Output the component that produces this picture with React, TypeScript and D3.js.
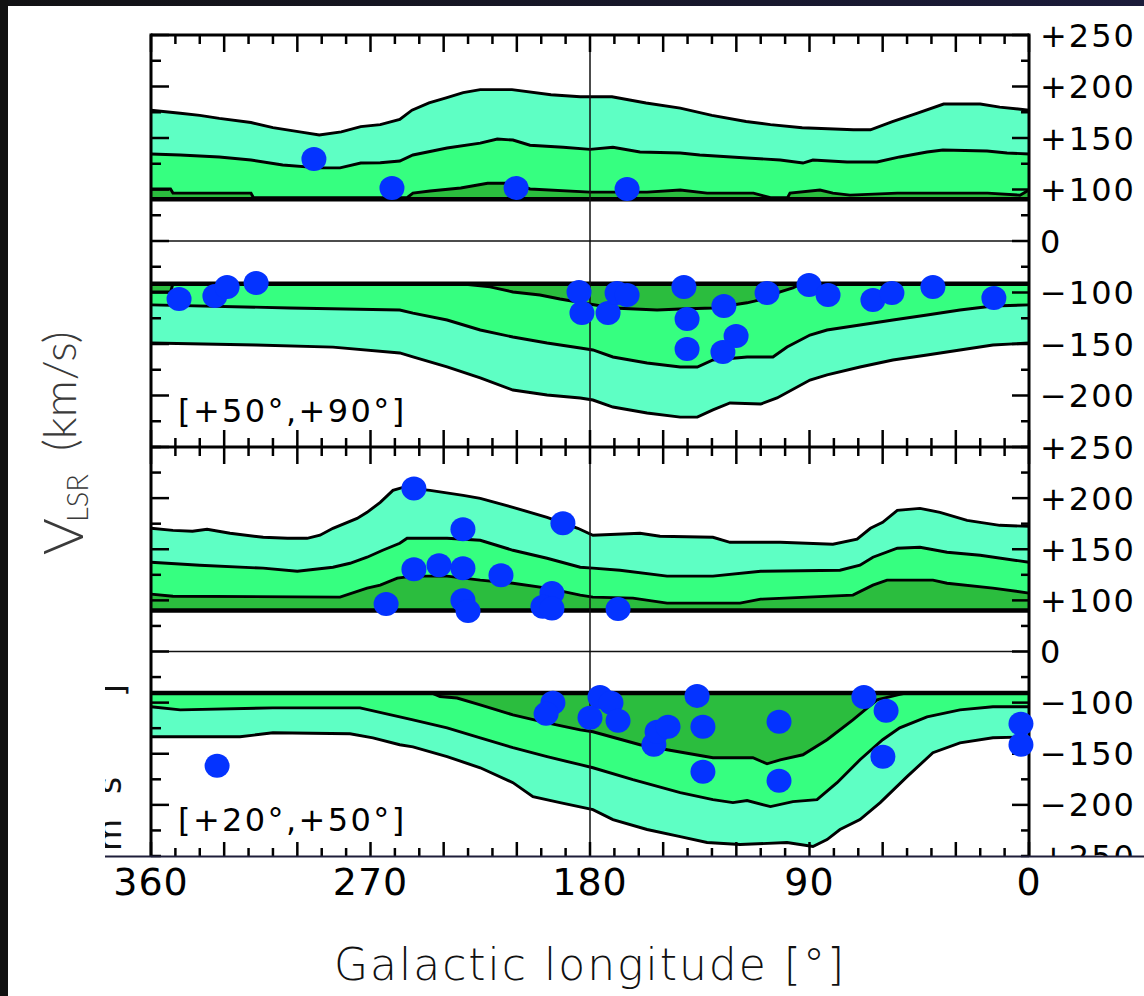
import React from 'react';
import * as d3 from 'd3';

type Pt = [number, number];

// ---------------- data (longitude [deg], V_LSR [km/s]) ----------------
// Panel 1: b in [+50°,+90°]
const p1PosDark: Pt[] = [[360,100.5],[352,100.5],[351,93],[319,93],[318,84],[255,84],[252.6,93],[245.6,97],[233,101.5],[222,106],[211.6,106],[204.6,100.5],[180,95],[156.6,95],[143,99],[132,93],[113,93],[106,84],[99,84],[98,93],[85.7,99],[80.4,93],[73.4,89],[54,93],[17,93],[3.7,89],[0,99]];
const p1PosMid: Pt[] = [[360,134.5],[348,133.5],[332,131.6],[319,128.6],[306,123.8],[291,121],[282.5,121],[274,125.7],[266,126],[258,127.7],[252.6,133.5],[238.6,140.3],[225,145],[218,149],[211.6,148],[204.6,143],[191,141],[180,139],[170.6,141],[159.5,136.4],[143,135.4],[135,133.5],[115.6,130.6],[102,128.6],[92.7,125.7],[88.6,128.6],[74.6,126.7],[62.3,126.7],[53,131.6],[41.8,136.4],[35.3,138.4],[17.2,137.4],[9,135.4],[0,134.5]];
const p1PosOuter: Pt[] = [[360,177],[348,174],[340,172],[332,169],[319,165],[310,160],[299,156],[291,153],[282,156],[274,161],[266,163],[258,168],[253,177],[246,184],[239,189],[232,194],[225,197],[212,197],[196,192],[184,190],[171,190],[157,184],[143,179],[130,172],[116,166],[106,163],[93,160],[72,158],[65,158],[56,166],[46,174],[35,183],[20,183],[12,180],[0,177]];
const p1NegDark: Pt[] = [[360,-99],[352,-99],[351,-83],[233,-83],[221,-89],[211.6,-99],[200.5,-102.4],[192.3,-106.3],[170.6,-115],[152.5,-117],[143,-116],[129.6,-115],[115.6,-110],[110,-107],[102,-99],[96.8,-91],[94,-85],[92,-83],[0,-83]];
const p1NegMid: Pt[] = [[360,-112],[303,-115],[258,-117],[252.6,-120],[238.6,-126.7],[225,-136.4],[211.6,-143.2],[197.6,-149],[184,-153.9],[178.8,-155.8],[170.6,-162.6],[156.6,-168.4],[143,-172.3],[136,-172.3],[129.6,-165.5],[115.6,-162.6],[105,-162.6],[99.2,-152.9],[89.8,-141.3],[82.8,-136.4],[69.3,-131.6],[55.8,-126.7],[41.8,-121.8],[28.3,-117],[14.8,-113.1],[0,-112]];
const p1NegOuter: Pt[] = [[360,-149],[317,-151],[285.4,-153],[258,-158.7],[252.6,-162.6],[238.6,-172.3],[225,-183],[211.6,-194.7],[197.6,-199.5],[184,-202.4],[178.8,-204.4],[170.6,-211.2],[156.6,-217],[143,-221],[136,-221],[129.6,-214],[122.6,-207.3],[110,-208.3],[103.3,-202.4],[89.8,-185],[82.8,-180],[69.3,-172.3],[55.8,-165.5],[41.8,-160.7],[28.3,-155.8],[14.8,-151],[0,-149]];
const p1Limits = [81, -83];
const p1Clouds: Pt[] = [[293.2,129.6],[261.2,101.5],[210.3,101.5],[164.8,100.5],[348.5,-106.3],[333.8,-103.4],[328.8,-89.3],[316.9,-81.6],[184.5,-99],[183.3,-119.9],[172.6,-119.9],[168.9,-100.5],[164.8,-102.4],[141.5,-89.3],[140.2,-125.7],[140.2,-154.9],[125.1,-113.1],[120.1,-142.2],[125.5,-157.8],[107.4,-100.5],[90.2,-85.4],[82.4,-102.4],[64,-107.3],[56.2,-100.5],[39.4,-89.3],[14.4,-105.3]];

// Panel 2: b in [+20°,+50°]
const p2PosDark: Pt[] = [[360,106.1],[351,104.1],[282.5,103.2],[271.4,112],[266,114.9],[259,121.7],[252.6,123.7],[238.6,123.7],[225,119.8],[211.6,116.8],[197.6,112],[184,105.1],[178.8,103.2],[162.4,102.2],[148.4,94.6],[118.5,94.6],[110,101.2],[72.2,105.1],[64,114.9],[58.2,119.8],[39.4,119.8],[33.6,116.8],[14.8,112],[0,107.1]];
const p2PosMid: Pt[] = [[360,137.3],[340,134.4],[314,131.5],[300,128.5],[285.4,132.4],[278.4,136.3],[271.4,142.2],[265,149],[258,155.9],[255,160.7],[238.6,160.7],[225,158.8],[211.6,149],[197.6,141.2],[184,132.4],[178.8,131.5],[167.7,129.5],[148.4,123.7],[129.6,123.7],[110,128.5],[77.5,129.5],[69.3,134.4],[64,142.2],[54,151],[44.7,152],[33.6,147.1],[20,144.1],[0,137.3]];
const p2PosOuter: Pt[] = [[360,170.5],[351,168.5],[343,167.6],[337,169.5],[327.6,165.6],[314,161.7],[304,160.7],[296,160.7],[290.7,163.7],[285.4,170.5],[275.5,180.2],[271.4,186.1],[266,195.9],[260.8,207.6],[256.7,210.5],[245.6,207.6],[232,202.7],[225,199.8],[211.6,191],[197.6,181.2],[185,170.5],[178.8,163.7],[159.5,165.6],[151.3,162.7],[129.6,161.7],[122.6,156.8],[102,156.8],[80.4,154.9],[70.5,159.8],[65,170.5],[60,176.3],[54,188],[44.7,190],[36.5,186.1],[25.4,178.3],[12,173.4],[0,172.4]];
const p2NegDark: Pt[] = [[360,-81],[245,-81],[241.5,-88],[234.5,-91],[225,-102.2],[211.6,-112],[197.6,-119.8],[184,-126.6],[178.8,-128.5],[159.5,-141.2],[148.4,-146.1],[129.6,-153.9],[113.2,-153.9],[107.4,-159.8],[102,-155.9],[92.7,-151],[82.8,-136.3],[72.2,-116.8],[62.3,-94.6],[53,-84],[50,-81],[0,-81]];
const p2NegMid: Pt[] = [[360,-104.1],[348,-107.1],[310,-105.1],[274.3,-105.1],[258,-113.9],[252.6,-116.8],[238.6,-124.6],[225,-134.4],[211.6,-144.1],[197.6,-152.9],[184,-160.7],[178.8,-163.7],[162.4,-175.4],[143,-188],[129.6,-194.9],[121.4,-197.8],[115.6,-195.8],[106,-201.7],[96.8,-196.8],[86.9,-194.9],[78.7,-178.3],[69.3,-155.9],[60,-136.3],[53,-124.6],[41.8,-113.9],[28.3,-107.1],[14.8,-104.1],[0,-104.1]];
const p2NegOuter: Pt[] = [[360,-133.4],[323.5,-133.4],[310,-129.5],[278.4,-130.5],[269,-134.4],[258,-141.2],[252.6,-143.2],[238.6,-152.9],[225,-163.7],[211.6,-178.3],[203.4,-192],[192.3,-197.8],[178.8,-204.6],[170.6,-214.4],[156.6,-224.1],[143,-231],[132,-236.8],[118.5,-238.8],[99.2,-236.8],[88.6,-240.7],[82.8,-233.9],[77.5,-224.1],[69.3,-214.4],[61,-197.8],[50,-172.4],[39.4,-149],[28.3,-139.3],[14.8,-134.4],[0,-133.4]];
const p2Limits = [80, -81];
const p2Clouds: Pt[] = [[252.2,209.5],[232.1,169.5],[191.1,175.4],[252.2,130.5],[241.9,134.4],[232.1,131.5],[216.5,124.6],[263.6,92.7],[232.1,100.2],[230,79],[195.6,107.1],[199.3,87.4],[195.6,84.3],[168.5,82.9],[332.9,-161.7],[195.2,-100.2],[198,-111],[175.9,-88.8],[171.4,-100.2],[180,-114.9],[168.5,-117.8],[153.8,-141.2],[152.5,-128.5],[148,-123.7],[136.1,-86.8],[133.7,-123.7],[133.7,-167.6],[102.5,-118.8],[102.5,-176.4],[67.7,-88.8],[58.6,-108],[59.9,-152.9],[3.3,-120.7],[3.3,-141.2]];

const velocityTicks = [250, 200, 150, 100, 0, -100, -150, -200];
const velocityTickLabels = ['+250', '+200', '+150', '+100', '0', '\u2212100', '\u2212150', '\u2212200'];
const velocityMinorTicks = [225, 175, 125, 50, -50, -125, -175, -225, -250];
const longitudeLabels = [360, 270, 180, 90, 0];
const panelLabels = ['[+50°,+90°]', '[+20°,+50°]'];

// ---------------- layout ----------------
const W = 1144, H = 996;
const XL = 151, XR = 1029;
const PANEL_BOUNDS = [[35, 447], [447, 856]];
const C_LIGHT = '#5effc4', C_MID = '#36ff80', C_DARK = '#2bbd3e', C_DOT = '#0433ff';
const TICK_FONT = "'DejaVu Sans', sans-serif";

const x = d3.scaleLinear().domain([360, 0]).range([XL, XR]);
// Compressed velocity axis: |v|<=100 occupies one unit, beyond that 50 km/s per unit
const compress = (v: number) => {
  const a = Math.abs(v);
  const c = a <= 100 ? a / 100 : 1 + (a - 100) / 50;
  return Math.sign(v) * c;
};

const panels = [
  { pos: [p1PosOuter, p1PosMid, p1PosDark], neg: [p1NegOuter, p1NegMid, p1NegDark], limits: p1Limits, clouds: p1Clouds, label: panelLabels[0] },
  { pos: [p2PosOuter, p2PosMid, p2PosDark], neg: [p2NegOuter, p2NegMid, p2NegDark], limits: p2Limits, clouds: p2Clouds, label: panelLabels[1] },
];

const lonTicks = d3.range(0, 361, 10);

function Panel({ idx }: { idx: number }) {
  const p = panels[idx];
  const [top, bottom] = PANEL_BOUNDS[idx];
  const ys = d3.scaleLinear().domain([-4, 4]).range([bottom, top]);
  const yv = (v: number) => ys(compress(v));
  const fills = [C_LIGHT, C_MID, C_DARK];
  const halves = [
    { curves: p.pos, lim: p.limits[0] },
    { curves: p.neg, lim: p.limits[1] },
  ];
  const line = d3.line<Pt>().x(d => x(d[0])).y(d => yv(d[1]));
  return (
    <g>
      {halves.map((h, hi) => {
        const area = d3.area<Pt>().x(d => x(d[0])).y0(yv(h.lim)).y1(d => yv(d[1]));
        return (
          <g key={hi}>
            {h.curves.map((c, ci) => (
              <path key={ci} d={area(c) || ''} fill={fills[ci]} stroke="none" />
            ))}
          </g>
        );
      })}
      <line x1={XL} x2={XR} y1={yv(0)} y2={yv(0)} stroke="#111" strokeWidth={1.5} />
      {halves.map((h, hi) => (
        <g key={'l' + hi}>
          {h.curves.map((c, ci) => (
            <path key={ci} d={line(c) || ''} fill="none" stroke="#000" strokeWidth={2.9} strokeLinejoin="miter" />
          ))}
          <line x1={XL} x2={XR} y1={yv(h.lim)} y2={yv(h.lim)} stroke="#000" strokeWidth={4.5} />
        </g>
      ))}
      {velocityTicks.map(v => (
        <g key={'t' + v}>
          <line x1={XL} x2={XL + 18} y1={yv(v)} y2={yv(v)} stroke="#000" strokeWidth={2.5} />
          <line x1={XR} x2={XR - 17} y1={yv(v)} y2={yv(v)} stroke="#000" strokeWidth={2.5} />
        </g>
      ))}
      {velocityMinorTicks.map(v => (
        <g key={'m' + v}>
          <line x1={XL} x2={XL + 10} y1={yv(v)} y2={yv(v)} stroke="#000" strokeWidth={2.5} />
          <line x1={XR} x2={XR - 8} y1={yv(v)} y2={yv(v)} stroke="#000" strokeWidth={2.5} />
        </g>
      ))}
      {velocityTicks.map((v, i) => (
        <text key={'lab' + v} x={1040} y={yv(v) + 11.5} fontFamily={TICK_FONT} fontSize={32} letterSpacing={2} fill="#000">
          {velocityTickLabels[i]}
        </text>
      ))}
      <text x={178} y={bottom - 25} fontFamily={TICK_FONT} fontSize={32} letterSpacing={2.4} fill="#000">{p.label}</text>
    </g>
  );
}

function Dots({ idx }: { idx: number }) {
  const p = panels[idx];
  const [top, bottom] = PANEL_BOUNDS[idx];
  const ys = d3.scaleLinear().domain([-4, 4]).range([bottom, top]);
  const yv = (v: number) => ys(compress(v));
  return (
    <g>
      {p.clouds.map((d, i) => (
        <ellipse key={i} cx={x(d[0])} cy={yv(d[1])} rx={12.5} ry={12} fill={C_DOT} />
      ))}
    </g>
  );
}

export default function App() {
  const top = PANEL_BOUNDS[0][0];
  const mid = PANEL_BOUNDS[0][1];
  const bot = PANEL_BOUNDS[1][1];
  return (
    <svg width={W} height={H} viewBox={`0 0 ${W} ${H}`} style={{ position: 'absolute', left: 0, top: 0, background: '#fff' }}>
      <defs>
        <linearGradient id="topband" x1="0" x2="1" y1="0" y2="0">
          <stop offset="0" stopColor="#121214" />
          <stop offset="1" stopColor="#1b1b3a" />
        </linearGradient>
        <clipPath id="clipBottom">
          <rect x={0} y={0} width={W} height={bot} />
        </clipPath>
        <clipPath id="clipFragment">
          <rect x={105} y={660} width={28} height={bot - 660} />
        </clipPath>
      </defs>
      <rect x={0} y={0} width={W} height={H} fill="#fff" />
      <Panel idx={0} />
      <Panel idx={1} />
      {/* extra clipped label at bottom edge */}
      <g clipPath="url(#clipBottom)">
        <text x={1040} y={bot + 11.5} fontFamily={TICK_FONT} fontSize={32} letterSpacing={2} fill="#000">+250</text>
      </g>
      {/* partially hidden axis-title fragment left of the lower panel */}
      <g clipPath="url(#clipFragment)" fill="#111" fontFamily={TICK_FONT} fontSize={33}>
        <text transform="translate(124,697) rotate(-90)">]</text>
        <text transform="translate(121,794) rotate(-90)">s</text>
        <text transform="translate(121,851) rotate(-90)">m</text>
      </g>
      {/* l = 180 reference line */}
      <line x1={x(180)} x2={x(180)} y1={top} y2={bot} stroke="#111" strokeWidth={1.5} />
      {/* frame */}
      <line x1={XL} x2={XL} y1={top - 1.5} y2={bot} stroke="#000" strokeWidth={3} />
      <line x1={XR} x2={XR} y1={top - 1.5} y2={bot} stroke="#000" strokeWidth={3} />
      <line x1={XL} x2={XR} y1={top} y2={top} stroke="#000" strokeWidth={3} />
      <line x1={XL} x2={XR} y1={mid} y2={mid} stroke="#000" strokeWidth={3} />
      {lonTicks.map(l => {
        const major = l % 30 === 0;
        const xx = x(l);
        return (
          <g key={'lt' + l}>
            <line x1={xx} x2={xx} y1={top} y2={top + (major ? 17 : 9)} stroke="#000" strokeWidth={2.5} />
            <line x1={xx} x2={xx} y1={mid - (major ? 17 : 9)} y2={mid + (major ? 17 : 9)} stroke="#000" strokeWidth={2.5} />
            <line x1={xx} x2={xx} y1={bot - (major ? 14 : 8)} y2={bot} stroke="#000" strokeWidth={2.5} />
          </g>
        );
      })}
      <Dots idx={0} />
      <Dots idx={1} />
      {/* bottom composite edge */}
      <line x1={105} x2={W} y1={bot + 0.5} y2={bot + 0.5} stroke="#1e1e3a" strokeWidth={2} />
      {longitudeLabels.map(l => (
        <text key={'xl' + l} x={x(l)} y={895} textAnchor="middle" fontFamily={TICK_FONT} fontSize={38} letterSpacing={1} fill="#000">{l}</text>
      ))}
      <text x={(XL + XR) / 2} y={980} textAnchor="middle" fontFamily={TICK_FONT} fontWeight={300} fontSize={44} letterSpacing={2} fill="#111">Galactic longitude [°]</text>
      {/* y axis title */}
      <text transform="translate(83,555) rotate(-90)" fontFamily="Lato, sans-serif" fontWeight={300} fontSize={56} fill="#3a3a3a">V</text>
      <text transform="translate(88,522) rotate(-90)" fontFamily="Lato, sans-serif" fontWeight={300} fontSize={29} fill="#3a3a3a">LSR</text>
      <text transform="translate(76,451) rotate(-90)" fontFamily="Lato, sans-serif" fontWeight={300} fontSize={46} fill="#3a3a3a">(km/s)</text>
      {/* screenshot frame */}
      <rect x={0} y={0} width={W} height={6} fill="url(#topband)" />
      <rect x={0} y={0} width={8} height={H} fill="#111" />
    </svg>
  );
}
